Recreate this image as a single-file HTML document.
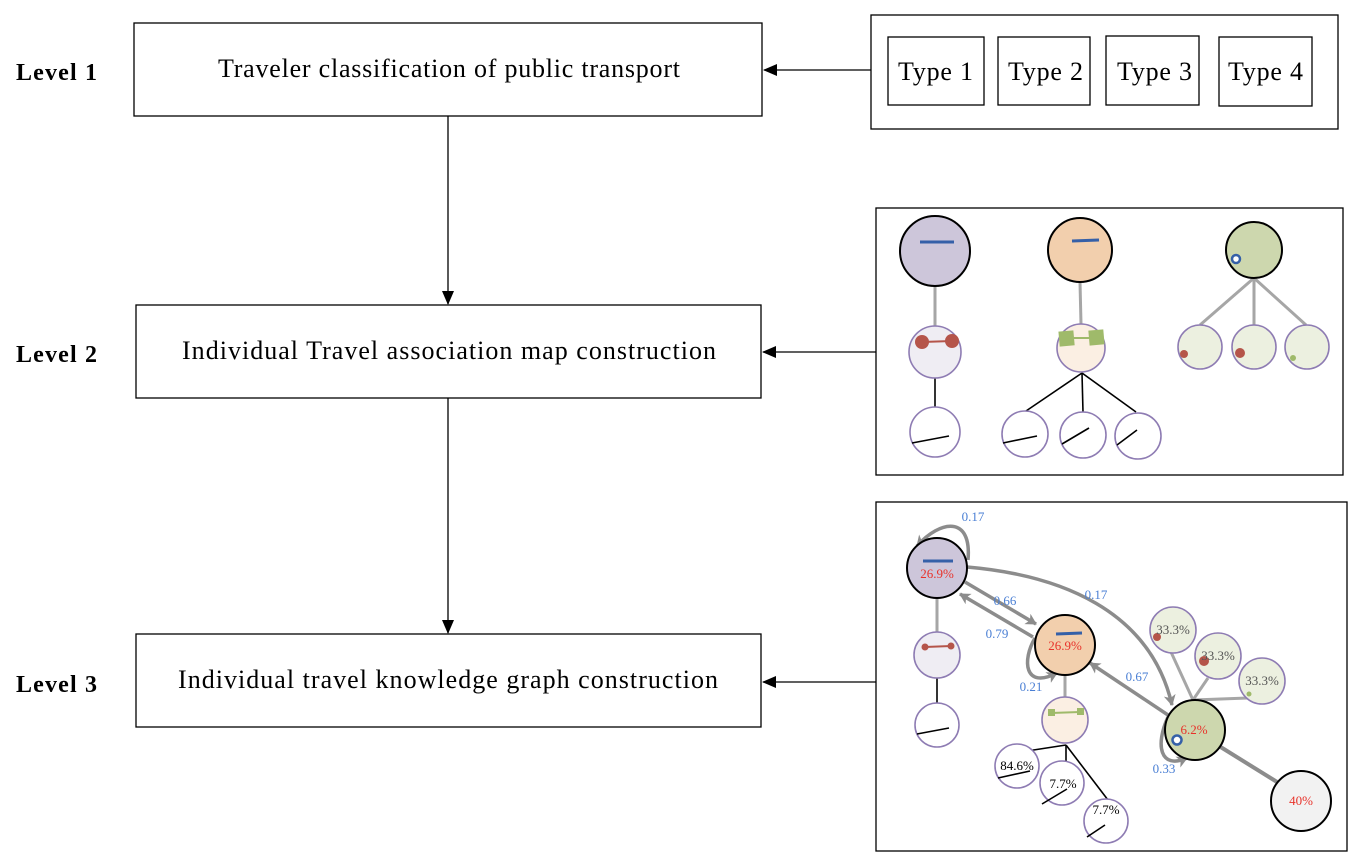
<!DOCTYPE html>
<html><head><meta charset="utf-8"><style>
html,body{margin:0;padding:0;background:#fff;width:1360px;height:868px;overflow:hidden}
svg{display:block}
text{font-family:"Liberation Serif",serif}
</style></head><body>
<svg width="1360" height="868" viewBox="0 0 1360 868" xmlns="http://www.w3.org/2000/svg">
<defs>
<marker id="ab" markerWidth="14" markerHeight="14" refX="13" refY="7" orient="auto" markerUnits="userSpaceOnUse"><path d="M0,1 L14,7 L0,13 z" fill="#000"/></marker>
<marker id="ag" markerWidth="12" markerHeight="12" refX="10" refY="6" orient="auto" markerUnits="userSpaceOnUse"><path d="M0,0 L11,6 L0,12 L3,6 z" fill="#8c8c8c"/></marker>
</defs>
<g font-weight="bold" font-size="24"><text x="16" y="80" textLength="81">Level 1</text><text x="16" y="362" textLength="81">Level 2</text><text x="16" y="692" textLength="81">Level 3</text></g>
<g fill="#fff" stroke="#000" stroke-width="1.3">
<rect x="134" y="23" width="628" height="93"/><rect x="136" y="305" width="625" height="93"/><rect x="136" y="634" width="625" height="93"/>
<rect x="871" y="15" width="467" height="114"/>
<rect x="888" y="37" width="96" height="68"/><rect x="998" y="37" width="92" height="68"/><rect x="1106" y="36" width="93" height="69"/><rect x="1219" y="37" width="93" height="69"/>
<rect x="876" y="208" width="467" height="267"/><rect x="876" y="502" width="471" height="349"/>
</g>
<g font-size="26">
<text x="218" y="77" textLength="462">Traveler classification of public transport</text>
<text x="182" y="359" textLength="534">Individual Travel association map construction</text>
<text x="178" y="688" textLength="540">Individual travel knowledge graph construction</text>
<text x="898" y="80" textLength="75">Type 1</text><text x="1008" y="80" textLength="75">Type 2</text><text x="1117" y="80" textLength="75">Type 3</text><text x="1228" y="80" textLength="75">Type 4</text>
</g>
<g stroke="#000" stroke-width="1.3" marker-end="url(#ab)">
<line x1="871" y1="70" x2="764" y2="70"/><line x1="876" y1="352" x2="763" y2="352"/><line x1="876" y1="682" x2="763" y2="682"/>
<line x1="448" y1="116" x2="448" y2="304"/><line x1="448" y1="398" x2="448" y2="633"/>
</g>
<!-- Level 2 panel -->
<g stroke="#a6a6a6" stroke-width="3"><line x1="935" y1="286" x2="935" y2="326"/><line x1="1080" y1="282" x2="1081" y2="324"/><line x1="1254" y1="278" x2="1200" y2="325"/><line x1="1254" y1="278" x2="1254" y2="325"/><line x1="1254" y1="278" x2="1306" y2="325"/></g>
<g stroke="#000" stroke-width="1.6"><line x1="935" y1="378" x2="935" y2="408"/><line x1="1082" y1="373" x2="1026" y2="411"/><line x1="1082" y1="373" x2="1083" y2="412"/><line x1="1082" y1="373" x2="1136" y2="412"/></g>
<g stroke="#000" stroke-width="2"><circle cx="935" cy="251" r="35" fill="#cdc6da"/><circle cx="1080" cy="250" r="32" fill="#f2cfad"/><circle cx="1254" cy="250" r="28" fill="#cdd7ae"/></g>
<g stroke="#8e7cb3" stroke-width="1.6"><circle cx="935" cy="352" r="26" fill="#efedf3"/><circle cx="935" cy="432" r="25" fill="#fff"/><circle cx="1081" cy="348" r="24" fill="#fbefe3"/><circle cx="1025" cy="434" r="23" fill="#fff"/><circle cx="1083" cy="435" r="23" fill="#fff"/><circle cx="1138" cy="436" r="23" fill="#fff"/><circle cx="1200" cy="347" r="22" fill="#ecf0e0"/><circle cx="1254" cy="347" r="22" fill="#ecf0e0"/><circle cx="1307" cy="347" r="22" fill="#ecf0e0"/></g>
<g stroke="#3560a8" stroke-width="3"><line x1="920" y1="242" x2="954" y2="242"/><line x1="1072" y1="241" x2="1099" y2="240"/></g>
<circle cx="1236" cy="259" r="4" fill="#fff" stroke="#3560a8" stroke-width="2.5"/>
<line x1="922" y1="342" x2="952" y2="341" stroke="#b5554a" stroke-width="2"/><circle cx="922" cy="342" r="7" fill="#b5554a"/><circle cx="952" cy="341" r="7" fill="#b5554a"/>
<line x1="1067" y1="338" x2="1095" y2="338" stroke="#9fba6a" stroke-width="2"/><rect x="1059" y="331" width="15" height="15" fill="#9fba6a" transform="rotate(-5 1066 338)"/><rect x="1089" y="330" width="15" height="15" fill="#9fba6a" transform="rotate(-5 1096 338)"/>
<circle cx="1184" cy="354" r="4" fill="#b5554a"/><circle cx="1240" cy="353" r="5" fill="#b5554a"/><circle cx="1293" cy="358" r="3" fill="#9fba6a"/>
<g stroke="#000" stroke-width="1.6"><line x1="912" y1="443" x2="949" y2="436"/><line x1="1003" y1="443" x2="1037" y2="436"/><line x1="1062" y1="444" x2="1089" y2="428"/><line x1="1117" y1="445" x2="1137" y2="430"/></g>
<!-- Level 3 panel -->
<g stroke="#a6a6a6" stroke-width="3"><line x1="937" y1="598" x2="937" y2="632"/><line x1="1065" y1="675" x2="1065" y2="697"/><line x1="1193" y1="700" x2="1171" y2="652"/><line x1="1193" y1="700" x2="1208" y2="678"/><line x1="1193" y1="700" x2="1248" y2="698"/></g>
<line x1="1219" y1="746" x2="1277" y2="782" stroke="#8c8c8c" stroke-width="4"/>
<g stroke="#000" stroke-width="1.6"><line x1="937" y1="678" x2="937" y2="703"/><line x1="1066" y1="745" x2="1027" y2="751"/><line x1="1066" y1="745" x2="1066" y2="773"/><line x1="1066" y1="745" x2="1108" y2="800"/></g>
<g stroke="#8c8c8c" stroke-width="3.5" fill="none" marker-end="url(#ag)">
<path d="M968,560 C972,515 940,520 917,546"/>
<line x1="965" y1="582" x2="1036" y2="624"/>
<line x1="1033" y1="637" x2="960" y2="594"/>
<path d="M1035,638 C1022,660 1024,690 1057,673"/>
<line x1="1168" y1="715" x2="1090" y2="663"/>
<path d="M967,567 C1060,575 1150,610 1172,705"/>
<path d="M1168,717 C1155,745 1160,770 1187,758"/>
</g>
<g stroke="#000" stroke-width="2"><circle cx="937" cy="568" r="30" fill="#cdc6da"/><circle cx="1065" cy="645" r="30" fill="#f2cfad"/><circle cx="1195" cy="730" r="30" fill="#cdd7ae"/><circle cx="1301" cy="801" r="30" fill="#f2f2f2"/></g>
<g stroke="#8e7cb3" stroke-width="1.6"><circle cx="937" cy="655" r="23" fill="#efedf3"/><circle cx="937" cy="725" r="22" fill="#fff"/><circle cx="1065" cy="720" r="23" fill="#fbefe3"/><circle cx="1017" cy="766" r="22" fill="#fff"/><circle cx="1062" cy="783" r="22" fill="#fff"/><circle cx="1106" cy="821" r="22" fill="#fff"/><circle cx="1173" cy="630" r="23" fill="#ecf0e0"/><circle cx="1218" cy="656" r="23" fill="#ecf0e0"/><circle cx="1262" cy="681" r="23" fill="#ecf0e0"/></g>
<g stroke="#3560a8" stroke-width="3"><line x1="923" y1="561" x2="953" y2="561"/><line x1="1056" y1="634" x2="1082" y2="633"/></g>
<circle cx="1177" cy="740" r="4.5" fill="#fff" stroke="#3560a8" stroke-width="2.5"/>
<line x1="925" y1="647" x2="951" y2="646" stroke="#b5554a" stroke-width="2"/><circle cx="925" cy="647" r="3.5" fill="#b5554a"/><circle cx="951" cy="646" r="3.5" fill="#b5554a"/>
<line x1="1051" y1="713" x2="1080" y2="712" stroke="#9fba6a" stroke-width="2"/><rect x="1048" y="709" width="7" height="7" fill="#9fba6a"/><rect x="1077" y="708" width="7" height="7" fill="#9fba6a"/>
<circle cx="1157" cy="637" r="4" fill="#b5554a"/><circle cx="1204" cy="661" r="5" fill="#b5554a"/><circle cx="1249" cy="694" r="2.5" fill="#9fba6a"/>
<g stroke="#000" stroke-width="1.6"><line x1="917" y1="734" x2="949" y2="728"/><line x1="998" y1="778" x2="1030" y2="771"/><line x1="1042" y1="804" x2="1067" y2="789"/><line x1="1087" y1="837" x2="1105" y2="825"/></g>
<g font-size="13" text-anchor="middle">
<g fill="#e8322a"><text x="937" y="578">26.9%</text><text x="1065" y="650">26.9%</text><text x="1194" y="734">6.2%</text><text x="1301" y="805">40%</text></g>
<g fill="#555"><text x="1173" y="634">33.3%</text><text x="1218" y="660">33.3%</text><text x="1262" y="685">33.3%</text></g>
<g fill="#000"><text x="1017" y="770">84.6%</text><text x="1063" y="788">7.7%</text><text x="1106" y="814">7.7%</text></g>
<g fill="#4a7fd4"><text x="973" y="521">0.17</text><text x="1005" y="605">0.66</text><text x="997" y="638">0.79</text><text x="1031" y="691">0.21</text><text x="1137" y="681">0.67</text><text x="1096" y="599">0.17</text><text x="1164" y="773">0.33</text></g>
</g>
</svg>
</body></html>
